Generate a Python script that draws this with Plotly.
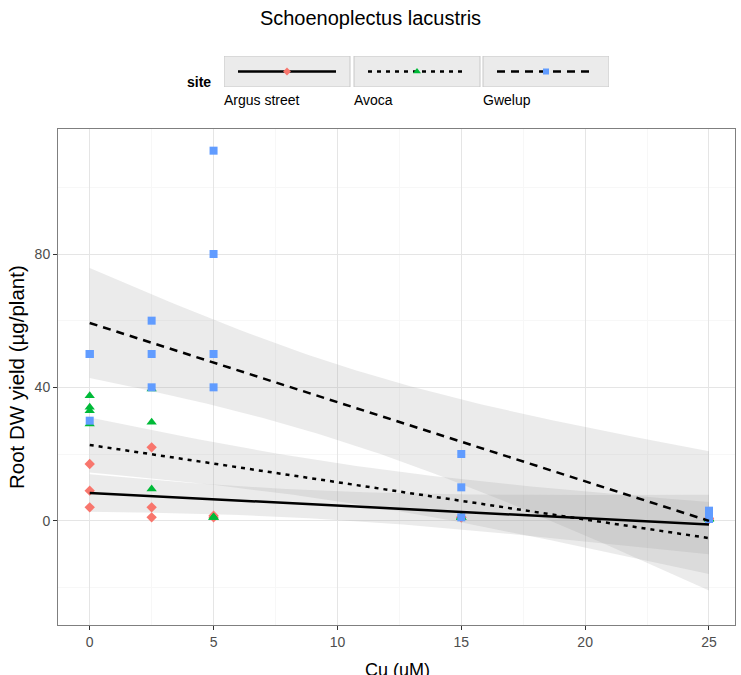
import math
import numpy as np
import plotly.graph_objects as go

# ---- data ----
sites = ["Argus street", "Avoca", "Gwelup"]
argus_x = [0, 0, 0, 2.5, 2.5, 2.5, 5, 5, 15, 15, 25, 25]
argus_y = [17, 9, 4, 22, 4, 1, 1.5, 1, 1, 1, 0.7, 0.5]
avoca_x = [0, 0, 0, 0, 2.5, 2.5, 2.5, 5, 5, 5, 5, 15, 15, 15, 15, 25, 25, 25, 25]
avoca_y = [37.5, 34, 33, 29, 39.5, 29.5, 9.5, 1, 1, 1, 1, 1, 1, 1, 1, 0.5, 0.5, 0.5, 0.5]
gwelup_x = [0, 0, 0, 2.5, 2.5, 2.5, 5, 5, 5, 5, 15, 15, 15, 25, 25, 25, 25]
gwelup_y = [50, 50, 30, 60, 50, 40, 111, 80, 50, 40, 20, 10, 1, 3, 2, 1, 0.5]
x_ticks = [0, 5, 10, 15, 20, 25]
y_ticks = [0, 40, 80]

colors = ["#F8766D", "#00BA38", "#619CFF"]
symbols = ["diamond", "triangle-up", "square"]
dashes = ["solid", "4px,5px", "8px,6px"]
msizes = [8, 9, 8]
FONT = "Arial, Liberation Sans, sans-serif"


def t_ppf(p, df):
    c = math.gamma((df + 1) / 2) / (math.sqrt(df * math.pi) * math.gamma(df / 2))

    def cdf(t):
        xs = np.linspace(0, t, 4001)
        ys = c * (1 + xs ** 2 / df) ** (-(df + 1) / 2)
        return 0.5 + np.trapezoid(ys, xs)

    lo, hi = 0.0, 20.0
    for _ in range(60):
        mid = (lo + hi) / 2
        if cdf(mid) < p:
            lo = mid
        else:
            hi = mid
    return (lo + hi) / 2


def lm_fit(x, y, grid):
    x = np.asarray(x, float)
    y = np.asarray(y, float)
    n = len(x)
    xm = x.mean()
    sxx = ((x - xm) ** 2).sum()
    b = ((x - xm) * (y - y.mean())).sum() / sxx
    a = y.mean() - b * xm
    res = y - (a + b * x)
    s = math.sqrt((res ** 2).sum() / (n - 2))
    fit = a + b * grid
    se = s * np.sqrt(1 / n + (grid - xm) ** 2 / sxx)
    t = t_ppf(0.975, n - 2)
    return fit, fit - t * se, fit + t * se


data = [(argus_x, argus_y), (avoca_x, avoca_y), (gwelup_x, gwelup_y)]
grid = np.linspace(min(x_ticks), max(x_ticks), 80)

fig = go.Figure()
fits = []
for i, (xx, yy) in enumerate(data):
    fit, lo, hi = lm_fit(xx, yy, grid)
    fits.append(fit)
    fig.add_trace(go.Scatter(x=np.concatenate([grid, grid[::-1]]),
                             y=np.concatenate([hi, lo[::-1]]),
                             fill="toself", fillcolor="rgba(153,153,153,0.2)",
                             line=dict(width=0), hoverinfo="skip", showlegend=False))
for i, (xx, yy) in enumerate(data):
    fig.add_trace(go.Scatter(x=xx, y=yy, mode="markers", showlegend=False,
                             marker=dict(color=colors[i], symbol=symbols[i], size=msizes[i],
                                         line=dict(width=0))))
for i in range(3):
    fig.add_trace(go.Scatter(x=grid, y=fits[i], mode="lines", showlegend=False,
                             line=dict(color="black", width=2.5, dash=dashes[i])))

# ---- manual legend on an auxiliary axis (pixel-like units) ----
W, H = 741, 675
ml, mr, mt, mb = 58, 6, 10, 50
pw, ph = W - ml - mr, H - mt - mb


def px(x):
    return (x - ml) / pw


def py(y):
    return (H - mb - y) / ph


box_l = [224, 354, 483]
box_w = 126
leg_x0, leg_x1 = 224, 609
leg_y0, leg_y1 = 56, 87
for i in range(3):
    x0 = box_l[i] - leg_x0
    fig.add_shape(type="rect", xref="x2", yref="y2", x0=x0, x1=x0 + box_w, y0=0, y1=1,
                  fillcolor="#ebebeb", line=dict(color="#c8c8c8", width=1), layer="below")
    fig.add_trace(go.Scatter(x=[x0 + 14, x0 + 63, x0 + 112], y=[0.5, 0.5, 0.5], xaxis="x2", yaxis="y2",
                             mode="lines", showlegend=False, hoverinfo="skip",
                             line=dict(color="black", width=2.5, dash=dashes[i])))
    fig.add_trace(go.Scatter(x=[x0 + 63], y=[0.5], xaxis="x2", yaxis="y2",
                             mode="markers", showlegend=False, hoverinfo="skip",
                             marker=dict(color=colors[i], symbol=symbols[i], size=msizes[i] - 2)))
    fig.add_annotation(text=sites[i], xref="paper", yref="paper", x=px(box_l[i] - 2), y=py(100),
                       xanchor="left", yanchor="middle", showarrow=False,
                       font=dict(family=FONT, size=14, color="black"))
fig.add_annotation(text="<b>site</b>", xref="paper", yref="paper", x=px(185), y=py(82),
                   xanchor="left", yanchor="middle", showarrow=False,
                   font=dict(family=FONT, size=14, color="black"))
fig.add_annotation(text="Cu (uM)", xref="paper", yref="paper", x=px(397), y=py(670),
                   xanchor="center", yanchor="middle", showarrow=False,
                   font=dict(family=FONT, size=18, color="black"))
fig.add_annotation(text="Root DW yield (µg/plant)", xref="paper", yref="paper", x=px(17), y=py(377),
                   xanchor="center", yanchor="middle", showarrow=False, textangle=-90,
                   font=dict(family=FONT, size=20.5, color="black"))

fig.update_layout(
    width=W, height=H, margin=dict(l=ml, r=mr, t=mt, b=mb),
    paper_bgcolor="white", plot_bgcolor="white",
    title=dict(text="Schoenoplectus lacustris", x=0.5, xref="container", y=1 - 18 / H,
               yref="container", xanchor="center", yanchor="middle",
               font=dict(family=FONT, size=20, color="black")),
    showlegend=False,
    xaxis=dict(range=[-1.28, 26.05], tickvals=x_ticks, ticks="outside", ticklen=4, tickwidth=1,
               tickcolor="#333333", showline=True, linecolor="#7f7f7f", mirror=True,
               showgrid=True, gridcolor="#e5e5e5", gridwidth=1, zeroline=False,
               minor=dict(dtick=2.5, tick0=0, showgrid=True, gridcolor="#f7f7f7", ticks=""),
               tickfont=dict(family=FONT, size=14, color="#4d4d4d"), domain=[0, 1]),
    yaxis=dict(range=[-31.3, 117.5], tickvals=y_ticks, ticks="outside", ticklen=4, tickwidth=1,
               tickcolor="#333333", showline=True, linecolor="#7f7f7f", mirror=True,
               showgrid=True, gridcolor="#e5e5e5", gridwidth=1, zeroline=False,
               minor=dict(dtick=20, tick0=0, showgrid=True, gridcolor="#f7f7f7", ticks=""),
               tickfont=dict(family=FONT, size=14, color="#4d4d4d"),
               domain=[0, py(129)]),
    xaxis2=dict(domain=[px(leg_x0), px(leg_x1)], range=[0, leg_x1 - leg_x0], visible=False,
                anchor="y2", fixedrange=True),
    yaxis2=dict(domain=[py(leg_y1), py(leg_y0)], range=[0, 1], visible=False,
                anchor="x2", fixedrange=True),
)

fig.write_html("out.html", config={"displayModeBar": False},
               post_script="document.body.style.margin='0px';document.body.style.overflow='hidden';")
